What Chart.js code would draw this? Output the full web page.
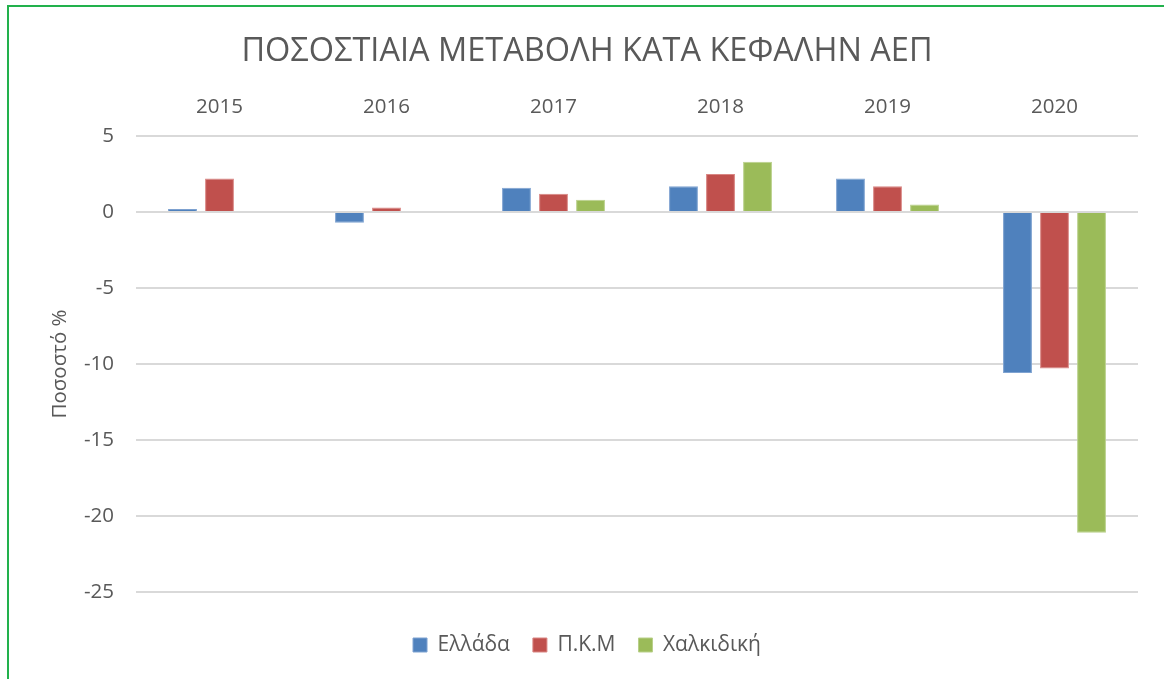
<!DOCTYPE html>
<html>
<head>
<meta charset="utf-8">
<script src="https://cdn.jsdelivr.net/npm/chart.js@4/dist/chart.umd.min.js"></script>
<style>
  html, body { margin: 0; padding: 0; background: #fff; overflow: hidden; }
  #wrap { position: absolute; left: 0; top: 0; width: 1164px; height: 679px; }
  #frame { position: absolute; left: 7px; top: 5px; width: 1180px; height: 700px;
           border-left: 2px solid #22b14c; border-top: 2px solid #22b14c; pointer-events: none; }
  canvas { position: absolute; left: 0; top: 0; }
</style>
</head>
<body>
<div id="wrap">
  <canvas id="c" width="1164" height="679"></canvas>
  <div id="frame"></div>
</div>
<script>
const categories = ['2015', '2016', '2017', '2018', '2019', '2020'];
const seriesNames = ['Ελλάδα', 'Π.Κ.Μ', 'Χαλκιδική'];
const greece = [0.2, -0.7, 1.6, 1.7, 2.2, -10.6];
const pkm = [2.2, 0.3, 1.2, 2.5, 1.7, -10.3];
const chalkidiki = [null, null, 0.8, 3.3, 0.5, -21.1];
const yTicks = [5, 0, -5, -10, -15, -20, -25];
const titleText = 'ΠΟΣΟΣΤΙΑΙΑ ΜΕΤΑΒΟΛΗ ΚΑΤΑ ΚΕΦΑΛΗΝ ΑΕΠ';
const yTitle = 'Ποσοστό %';

const FONT = "'Open Sans', 'Noto Sans', sans-serif";
const TXT = '#595959';

const fills = ['#4f81bd', '#c0504d', '#9bbb59'];
const borders = ['#7fa3d1', '#d98683', '#b9d08a'];

const data = {
  labels: categories,
  datasets: [greece, pkm, chalkidiki].map((vals, i) => ({
    label: seriesNames[i],
    data: vals,
    backgroundColor: fills[i],
    borderColor: borders[i],
    borderWidth: 1,
    categoryPercentage: 0.665,
    barPercentage: 0.78
  }))
};

new Chart(document.getElementById('c'), {
  type: 'bar',
  data,
  options: {
    responsive: false,
    animation: false,
    devicePixelRatio: 1,
    layout: { padding: { left: 36, right: 26, top: 0, bottom: 13.5 } },
    plugins: {
      title: {
        display: true,
        text: titleText,
        color: TXT,
        font: { family: FONT, size: 32.5, weight: 'normal' },
        padding: { top: 32, bottom: 0 }
      },
      legend: {
        position: 'bottom',
        title: { display: true, text: '', font: { size: 1 }, padding: { top: 0, bottom: 18.3 } },
        labels: {
          color: TXT,
          font: { family: FONT, size: 21 },
          boxWidth: 14,
          boxHeight: 14,
          padding: 23
        }
      },
      tooltip: { enabled: false }
    },
    scales: {
      x: {
        position: 'top',
        grid: { display: false, drawTicks: false },
        border: { display: false },
        ticks: { color: TXT, font: { family: FONT, size: 20.5 }, padding: 16.7 },
        afterFit(s) { s.height = 65; }
      },
      y: {
        min: -25,
        max: 5,
        afterBuildTicks(s) { s.ticks = yTicks.map(v => ({ value: v })); },
        grid: { color: '#d9d9d9', lineWidth: 2, drawTicks: false },
        border: { display: false },
        ticks: { color: TXT, font: { family: FONT, size: 20.5 }, padding: 22 },
        title: {
          display: true,
          text: yTitle,
          color: TXT,
          font: { family: FONT, size: 20.5 },
          padding: { top: 11.7, bottom: 0 }
        },
        afterFit(s) { s.width = 100; }
      }
    }
  }
});
</script>
</body>
</html>
